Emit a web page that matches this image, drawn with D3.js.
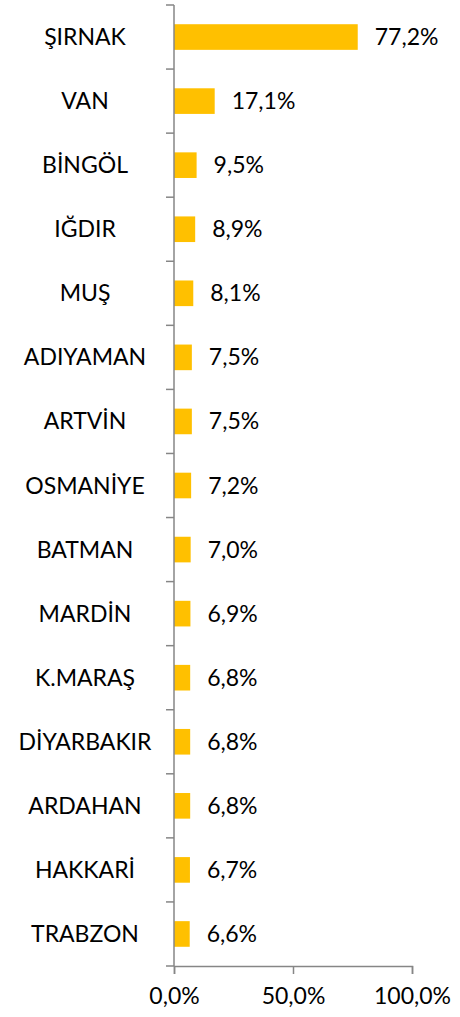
<html>
<head>
<meta charset="UTF-8">
<style>
  body { margin: 0; background: #ffffff; }
  text { font-family: Lato, "Noto Sans", sans-serif; fill: #000000; }
</style>
</head>
<body>
<div id="vis"></div>
<script src="https://d3js.org/d3.v7.min.js"></script>
<script>
// values
var provinces = ["ŞIRNAK", "VAN", "BİNGÖL", "IĞDIR", "MUŞ", "ADIYAMAN", "ARTVİN", "OSMANİYE",
                 "BATMAN", "MARDİN", "K.MARAŞ", "DİYARBAKIR", "ARDAHAN", "HAKKARİ", "TRABZON"];
var shares = [77.2, 17.1, 9.5, 8.9, 8.1, 7.5, 7.5, 7.2, 7.0, 6.9, 6.8, 6.8, 6.8, 6.7, 6.6];
var xTicks = [0, 50, 100];

var width = 460, height = 1017;
var plotLeft = 174, plotRight = 412, plotTop = 5, plotBottom = 966;
var fontSize = "23px";

var svg = d3.select("#vis").append("svg")
    .attr("width", width)
    .attr("height", height);

var x = d3.scaleLinear().domain([0, 100]).range([plotLeft, plotRight]);
var y = d3.scaleBand().domain(provinces).range([plotTop, plotBottom]).paddingInner(0.6).paddingOuter(0.3);
var fmt = function(v) { return v.toFixed(1).replace(".", ",") + "%"; };

// bars
svg.selectAll("rect.bar")
    .data(provinces)
    .enter()
    .append("rect")
    .attr("class", "bar")
    .attr("x", x(0))
    .attr("y", function(d) { return y(d); })
    .attr("width", function(d, i) { return x(shares[i]) - x(0); })
    .attr("height", y.bandwidth())
    .attr("fill", "#FFC000");

// value labels
svg.selectAll("text.val")
    .data(provinces)
    .enter()
    .append("text")
    .attr("class", "val")
    .attr("x", function(d, i) { return x(shares[i]) + 17; })
    .attr("y", function(d) { return y(d) + y.bandwidth() / 2; })
    .attr("dy", "0.35em")
    .style("font-size", fontSize)
    .text(function(d, i) { return fmt(shares[i]); });

// category labels
svg.selectAll("text.cat")
    .data(provinces)
    .enter()
    .append("text")
    .attr("class", "cat")
    .attr("x", 85)
    .attr("y", function(d) { return y(d) + y.bandwidth() / 2; })
    .attr("dy", "0.35em")
    .attr("text-anchor", "middle")
    .style("font-size", fontSize)
    .text(function(d) { return d; });

// vertical axis with tick marks between categories
var step = (plotBottom - plotTop) / provinces.length;
var axisCol = "#868686";
svg.append("line")
    .attr("x1", plotLeft).attr("x2", plotLeft)
    .attr("y1", plotTop).attr("y2", plotBottom)
    .attr("stroke", axisCol).attr("stroke-width", 1.5);
svg.selectAll("line.ytick")
    .data(d3.range(provinces.length + 1))
    .enter()
    .append("line")
    .attr("x1", plotLeft - 8).attr("x2", plotLeft)
    .attr("y1", function(k) { return plotTop + k * step; })
    .attr("y2", function(k) { return plotTop + k * step; })
    .attr("stroke", axisCol).attr("stroke-width", 1.5);

// horizontal axis
var xAxis = d3.axisBottom(x).tickValues(xTicks).tickSize(8).tickPadding(14)
    .tickFormat(function(v) { return fmt(v); });
var gx = svg.append("g")
    .attr("transform", "translate(0," + plotBottom + ")")
    .call(xAxis);
gx.select(".domain").attr("stroke", axisCol).attr("stroke-width", 1.5);
gx.selectAll(".tick line").attr("stroke", axisCol).attr("stroke-width", 1.5);
gx.selectAll(".tick text")
    .style("font-family", "Lato, 'Noto Sans', sans-serif")
    .style("font-size", fontSize)
    .attr("fill", "#000000");
</script>
</body>
</html>
